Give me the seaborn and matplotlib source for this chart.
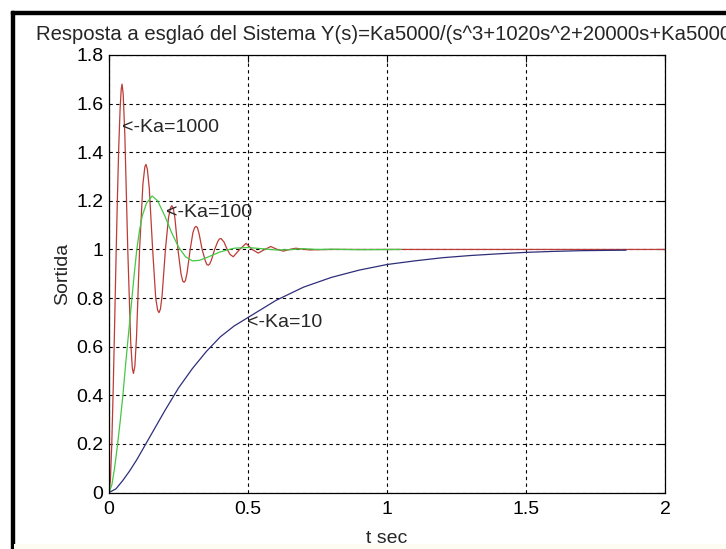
import matplotlib.pyplot as plt
import seaborn as sns
import pandas as pd

# Step responses
t_ka1000 = [0, 0.005, 0.01, 0.015, 0.02, 0.025, 0.03, 0.035, 0.04, 0.044,
            0.047, 0.051, 0.057, 0.0675, 0.078, 0.084,
            0.088, 0.093, 0.099, 0.11, 0.122, 0.129,
            0.133, 0.138, 0.145, 0.157, 0.168, 0.175,
            0.18, 0.185, 0.191, 0.203, 0.214, 0.221,
            0.226, 0.231, 0.237, 0.248, 0.259, 0.265,
            0.27, 0.275, 0.281, 0.292, 0.302, 0.308,
            0.313, 0.318, 0.324, 0.335, 0.346, 0.352,
            0.357, 0.362, 0.368, 0.38, 0.391, 0.397,
            0.403, 0.414, 0.425, 0.436, 0.447, 0.47, 0.493, 0.515,
            0.537, 0.56, 0.582, 0.605, 0.627, 0.65, 0.672, 0.72, 0.8, 2.0]
y_ka1000 = [0, 0.05, 0.2, 0.42, 0.68, 0.95, 1.2, 1.42, 1.58, 1.66,
            1.68, 1.64, 1.47, 1.0, 0.62, 0.51,
            0.49, 0.52, 0.64, 1.0, 1.27, 1.34,
            1.35, 1.33, 1.25, 1.0, 0.8, 0.75,
            0.74, 0.755, 0.81, 1.0, 1.13, 1.17,
            1.18, 1.17, 1.13, 1.0, 0.9, 0.87,
            0.865, 0.872, 0.905, 1.0, 1.07, 1.09,
            1.095, 1.09, 1.065, 1.0, 0.955, 0.938,
            0.935, 0.94, 0.955, 1.0, 1.032, 1.043,
            1.045, 1.03, 1.0, 0.979, 0.97, 1.0, 1.025, 1.0,
            0.985, 1.0, 1.012, 1.0, 0.993, 1.0, 1.005, 0.998, 1.0, 1.0]

t_ka100 = [0, 0.01, 0.02, 0.03, 0.04, 0.05, 0.06, 0.07, 0.08, 0.09, 0.1, 0.11, 0.12,
           0.135, 0.155, 0.175, 0.2, 0.225, 0.25, 0.275, 0.3, 0.325, 0.35,
           0.4, 0.45, 0.5, 0.55, 0.6, 0.65, 0.7, 0.75, 0.8, 0.9, 1.05]
y_ka100 = [0, 0.03, 0.1, 0.19, 0.29, 0.4, 0.53, 0.65, 0.77, 0.89, 1.0, 1.08, 1.14,
           1.19, 1.22, 1.2, 1.14, 1.07, 1.01, 0.97, 0.953, 0.955, 0.966,
           0.99, 1.005, 1.008, 1.003, 0.998, 0.999, 1.003, 1.0, 1.001, 0.999, 1.0]

t_ka10 = [0, 0.025, 0.05, 0.075, 0.1, 0.15, 0.2, 0.25, 0.3, 0.35, 0.4, 0.45, 0.5,
          0.6, 0.7, 0.8, 0.9, 1.0, 1.1, 1.2, 1.3, 1.4, 1.5, 1.6, 1.7, 1.86]
y_ka10 = [0, 0.015, 0.05, 0.09, 0.135, 0.235, 0.335, 0.43, 0.51, 0.58, 0.64, 0.685, 0.72,
          0.79, 0.845, 0.885, 0.915, 0.938, 0.953, 0.966, 0.975, 0.982, 0.988, 0.992, 0.995, 0.997]

x_ticks = [0, 0.5, 1, 1.5, 2]
x_tick_labels = ['0', '0.5', '1', '1.5', '2']
y_ticks = [0, 0.2, 0.4, 0.6, 0.8, 1, 1.2, 1.4, 1.6, 1.8]
y_tick_labels = ['0', '0.2', '0.4', '0.6', '0.8', '1', '1.2', '1.4', '1.6', '1.8']

labels = ['<-Ka=1000', '<-Ka=100', '<-Ka=10']
label_pos = [(0.047, 1.5), (0.205, 1.15), (0.497, 0.7)]

sns.set_style("white")
plt.rcParams['font.family'] = ['Liberation Sans', 'DejaVu Sans']

W, H = 726, 549
fs = 14
fig = plt.figure(figsize=(W / 100, H / 100), dpi=100)
ax = fig.add_axes([109 / W, 1 - 492.5 / H, 556 / W, 437.5 / H])

series = [
    (t_ka1000, y_ka1000, '#bd3b35'),
    (t_ka100, y_ka100, '#45c845'),
    (t_ka10, y_ka10, '#2e2e7a'),
]
for t, y, c in series:
    df = pd.DataFrame({'t': t, 'y': y})
    sns.lineplot(data=df, x='t', y='y', ax=ax, color=c, linewidth=0.9,
                 estimator=None, sort=False)

for txt, (tx, ty) in zip(labels, label_pos):
    ax.text(tx, ty, txt, ha='left', va='center', fontsize=fs)

ax.set_xlim(0, 2)
ax.set_ylim(0, 1.8)
ax.set_xticks(x_ticks)
ax.set_xticklabels(x_tick_labels)
ax.set_yticks(y_ticks)
ax.set_yticklabels(y_tick_labels)
ax.grid(True, color='black', linestyle=(0, (3, 3)), linewidth=0.8)
ax.tick_params(direction='in', top=True, right=True, length=5, width=0.8,
               labelsize=fs, colors='black')
ax.tick_params(axis='x', pad=6)
ax.tick_params(axis='y', pad=4)
for s in ax.spines.values():
    s.set_color('black')
    s.set_linewidth(0.9)

ax.set_title('Resposta a esglaó del Sistema Y(s)=Ka5000/(s^3+1020s^2+20000s+Ka5000)',
             fontsize=14.6, pad=11)
ax.set_xlabel('t sec', fontsize=fs, labelpad=9)
ax.set_ylabel('Sortida', fontsize=fs, labelpad=4)

# window frame of the screenshot
fig.add_artist(plt.Rectangle((11 / W, 0), 3 / W, 1 - 11 / H,
                             transform=fig.transFigure, color='black'))
fig.add_artist(plt.Rectangle((11 / W, 1 - 14 / H), 1, 3 / H,
                             transform=fig.transFigure, color='black'))
fig.add_artist(plt.Rectangle((14 / W, 0), 1, 5 / H,
                             transform=fig.transFigure, color='#fcfcf2', lw=0))

fig.savefig('out.png', dpi=100)
